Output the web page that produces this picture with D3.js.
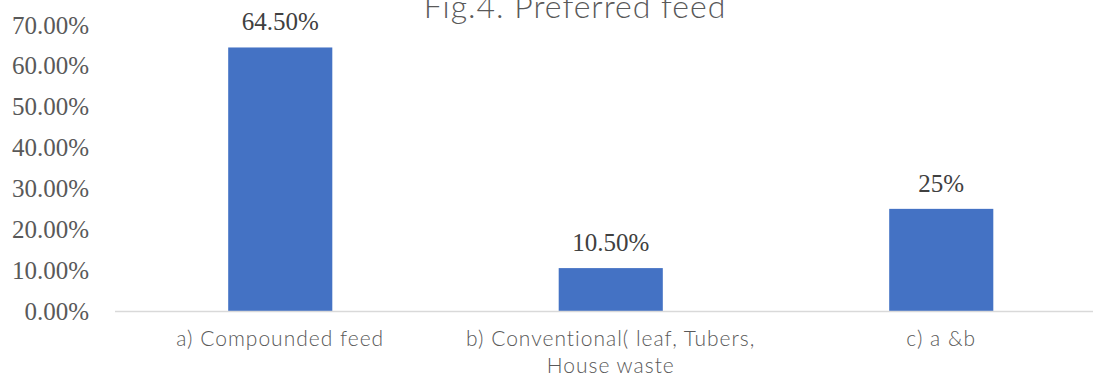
<!DOCTYPE html>
<html>
<head>
<meta charset="utf-8">
<script src="https://cdn.jsdelivr.net/npm/d3@7"></script>
<style>
  html, body { margin: 0; padding: 0; background: #fff; overflow: hidden; }
  svg { display: block; }
</style>
</head>
<body>
<svg id="chart" width="1093" height="379"></svg>
<script>
// Preferred feed shares
const categories = [
  ["a) Compounded feed"],
  ["b) Conventional( leaf, Tubers,", "House waste"],
  ["c) a &b"]
];
const values = [0.645, 0.105, 0.25];
const valueLabels = ["64.50%", "10.50%", "25%"];
const tickValues = [0, 0.1, 0.2, 0.3, 0.4, 0.5, 0.6, 0.7];
const titleText = "Fig.4. Preferred feed";

const handFont = "'Segoe Print', 'Comic Sans MS', Lato, sans-serif";
const serifFont = "'Liberation Serif', 'Times New Roman', serif";

const svg = d3.select("#chart");

const x = d3.scaleBand()
  .domain(d3.range(categories.length))
  .range([115, 1106.5])
  .padding(0);
const barW = x.bandwidth() * 0.315;

const y = d3.scaleLinear()
  .domain([0, 0.7])
  .range([311, 25]);

// y axis labels (no axis line, no ticks)
const yAxis = d3.axisLeft(y)
  .tickValues(tickValues)
  .tickFormat(d3.format(".2%"))
  .tickSize(0)
  .tickPadding(0);
const yg = svg.append("g")
  .attr("transform", "translate(89,0)")
  .call(yAxis);
yg.select(".domain").remove();
yg.selectAll("text")
  .attr("font-family", serifFont)
  .attr("font-size", 25)
  .attr("fill", "#595959");

// bars
svg.append("g").selectAll("rect")
  .data(values)
  .join("rect")
  .attr("x", (d, i) => x(i) + (x.bandwidth() - barW) / 2)
  .attr("y", d => y(d))
  .attr("width", barW)
  .attr("height", d => y(0) - y(d))
  .attr("fill", "#4472C4");

// category axis line
svg.append("line")
  .attr("x1", 115).attr("x2", 1093)
  .attr("y1", y(0) + 0.5).attr("y2", y(0) + 0.5)
  .attr("stroke", "#D9D9D9")
  .attr("stroke-width", 1.5);

// value labels
svg.append("g").selectAll("text")
  .data(values)
  .join("text")
  .attr("x", (d, i) => x(i) + x.bandwidth() / 2)
  .attr("y", d => y(d) - 17)
  .attr("text-anchor", "middle")
  .attr("font-family", serifFont)
  .attr("font-size", 25)
  .attr("fill", "#404040")
  .text((d, i) => valueLabels[i]);

// category labels
const cat = svg.append("g").selectAll("text")
  .data(categories)
  .join("text")
  .attr("x", (d, i) => x(i) + x.bandwidth() / 2)
  .attr("y", 346)
  .attr("text-anchor", "middle")
  .attr("font-family", handFont)
  .attr("font-weight", 300)
  .attr("font-size", 21)
  .attr("letter-spacing", 1)
  .attr("fill", "#595959");
cat.selectAll("tspan")
  .data(d => d)
  .join("tspan")
  .attr("x", function() { return this.parentNode.getAttribute("x"); })
  .attr("dy", (d, i) => i === 0 ? 0 : 27)
  .text(d => d);

// title
svg.append("text")
  .attr("x", 575)
  .attr("y", 18)
  .attr("text-anchor", "middle")
  .attr("font-family", handFont)
  .attr("font-weight", 300)
  .attr("font-size", 32)
  .attr("letter-spacing", 1)
  .attr("fill", "#595959")
  .text(titleText);
</script>
</body>
</html>
